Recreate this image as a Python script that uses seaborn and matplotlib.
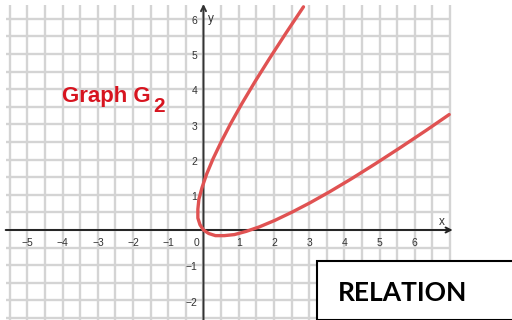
import numpy as np
import matplotlib
matplotlib.use("Agg")
import matplotlib.pyplot as plt
import seaborn as sns
from matplotlib.patches import Rectangle

# Points along the relation G2 (x, y pairs traced in order along the curve)
curve_x = [2.84, 2.34, 1.88, 1.46, 1.09, 0.77, 0.50, 0.27, 0.09, -0.04, -0.13,
           -0.16, -0.16, -0.10, 0.00, 0.15, 0.34, 0.59, 0.88, 1.21, 1.59, 2.02,
           2.50, 3.02, 3.59, 4.21, 4.88, 5.59, 6.34, 6.98]
curve_y = [6.34, 5.59, 4.88, 4.21, 3.59, 3.02, 2.50, 2.02, 1.59, 1.21, 0.88,
           0.59, 0.34, 0.15, 0.00, -0.10, -0.16, -0.16, -0.13, -0.04, 0.09, 0.27,
           0.50, 0.77, 1.09, 1.46, 1.88, 2.34, 2.84, 3.28]

x_ticks = [-5, -4, -3, -2, -1, 1, 2, 3, 4, 5, 6]
x_tick_labels = ["\u22125", "\u22124", "\u22123", "\u22122", "\u22121", "1", "2", "3", "4", "5", "6"]
y_ticks = [-2, -1, 1, 2, 3, 4, 5, 6]
y_tick_labels = ["\u22122", "\u22121", "1", "2", "3", "4", "5", "6"]

sns.set_theme(style="white")
plt.rcParams["font.family"] = ["Liberation Sans", "DejaVu Sans"]

fig = plt.figure(figsize=(5.12, 3.2), dpi=100)
ax = fig.add_axes([0, 0, 1, 1])
unit = 35.2
ax.set_xlim(-203.5 / unit, (512 - 203.5) / unit)
ax.set_ylim(-90 / unit, 230 / unit)
ax.set_axis_off()

# graph-paper grid at half-unit spacing
grid_c = "#d4d4d4"
for gx in np.arange(-5.5, 7.01, 0.5):
    ax.plot([gx, gx], [-2.7, 6.38], color=grid_c, lw=1.7, zorder=1, solid_capstyle="butt")
for gy in np.arange(-2.5, 6.01, 0.5):
    ax.plot([-5.6, 7.0], [gy, gy], color=grid_c, lw=1.7, zorder=1, solid_capstyle="butt")

# coordinate axes with arrowheads
ax.annotate("", xy=(7.08, 0), xytext=(-5.62, 0),
            arrowprops=dict(arrowstyle="->", color="#222222", lw=1.4,
                            shrinkA=0, shrinkB=0, mutation_scale=9), zorder=3)
ax.annotate("", xy=(0, 6.42), xytext=(0, -2.7),
            arrowprops=dict(arrowstyle="->", color="#333333", lw=1.4,
                            shrinkA=0, shrinkB=0, mutation_scale=9), zorder=3)

tick_c = "#333333"
for xv, lab in zip(x_ticks, x_tick_labels):
    ax.text(xv, -0.38, lab, ha="center", va="center", fontsize=7.5, color=tick_c, zorder=4)
ax.text(-0.2, -0.38, "0", ha="center", va="center", fontsize=7.5, color=tick_c, zorder=4)
for yv, lab in zip(y_ticks, y_tick_labels):
    ax.text(-0.17, yv - 0.06, lab, ha="right", va="center", fontsize=7.5, color=tick_c, zorder=4)
ax.text(6.78, 0.24, "x", ha="center", va="center", fontsize=8.5, color=tick_c, zorder=4)
ax.text(0.2, 6.0, "y", ha="center", va="center", fontsize=8.5, color=tick_c, zorder=4)

# the relation G2
sns.lineplot(x=curve_x, y=curve_y, sort=False, estimator=None, ax=ax,
             color="#e05252", lw=2.4, zorder=5)

ax.text(-4.03, 3.64, "Graph G", ha="left", va="baseline", fontsize=16,
        fontweight="bold", color="#d7141f", zorder=6)
ax.text(-1.44, 3.35, "2", ha="left", va="baseline", fontsize=15,
        fontweight="bold", color="#d7141f", zorder=6)

# label box in the lower right corner
box = Rectangle((317 / 512, 0), 1.0, (320 - 261) / 320, transform=fig.transFigure,
                facecolor="white", edgecolor="black", lw=1.5, zorder=7, clip_on=False)
fig.patches.append(box)
fig.text(403 / 512, 1 - 293 / 320, "RELATION", ha="center", va="center",
         fontsize=19, fontweight="bold", color="black", family=["Lato", "DejaVu Sans"],
         zorder=8)

fig.savefig("out.png", dpi=100)
